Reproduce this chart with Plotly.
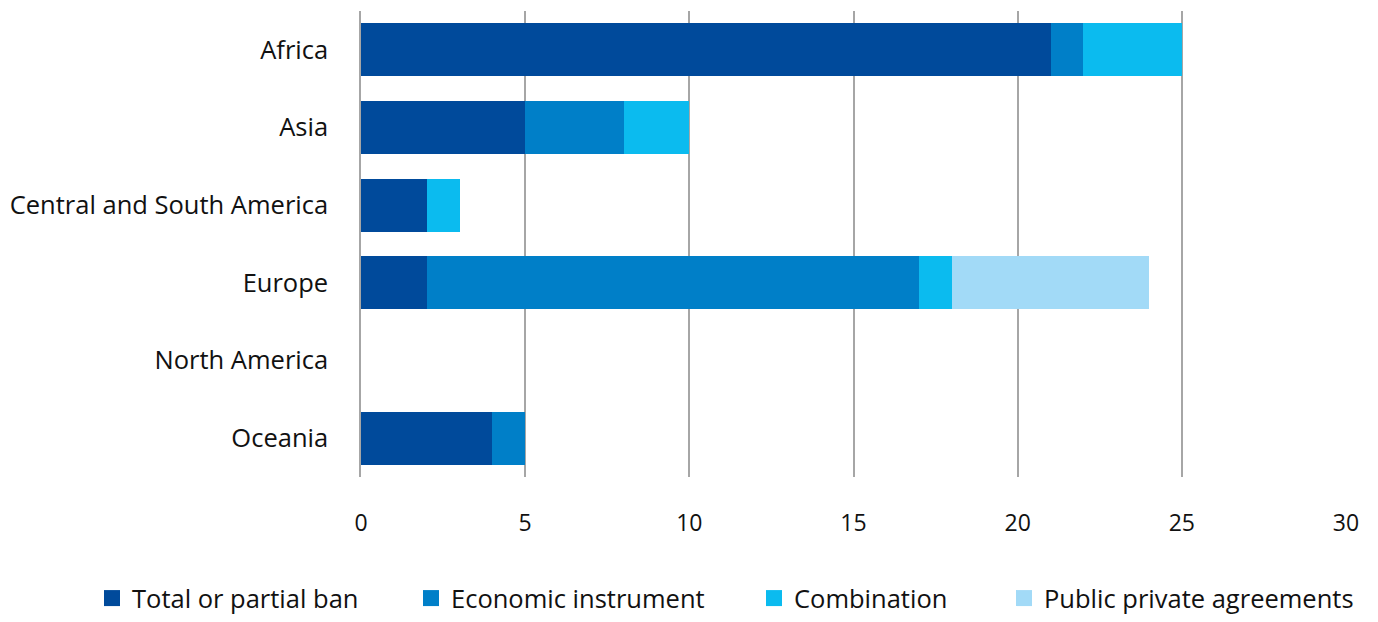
import plotly.graph_objects as go

regions = ["Africa", "Asia", "Central and South America", "Europe", "North America", "Oceania"]
series_names = ["Total or partial ban", "Economic instrument", "Combination", "Public private agreements"]
ban = [21, 5, 2, 2, 0, 4]
economic = [1, 3, 0, 15, 0, 1]
combination = [3, 2, 1, 1, 0, 0]
public_private = [0, 0, 0, 6, 0, 0]
x_ticks = [0, 5, 10, 15, 20, 25, 30]

colors = ["#004A9B", "#007FC8", "#0BBBEF", "#A2DAF7"]
values = [ban, economic, combination, public_private]
legend_ids = ["legend", "legend2", "legend3", "legend4"]
legend_x = [92, 411, 754, 1004]

FONT = "Open Sans"
LABEL_SIZE = 25.5
fig = go.Figure()
for name, vals, col in zip(series_names, values, colors):
    fig.add_trace(go.Bar(y=regions, x=vals, orientation="h", name=name,
                         marker=dict(color=col, line=dict(width=0)),
                         showlegend=False))
for name, col, lid in zip(series_names, colors, legend_ids):
    fig.add_trace(go.Scatter(x=[None], y=[None], mode="markers", name=name,
                             marker=dict(symbol="square", size=16, color=col),
                             legend=lid, showlegend=True))

layout_legends = {}
for lid, lx in zip(legend_ids, legend_x):
    layout_legends[lid] = dict(orientation="h", xref="container", yref="container",
                               x=lx / 1378, y=-5 / 622, xanchor="left", yanchor="bottom",
                               font=dict(family=FONT, size=LABEL_SIZE, color="#111111"),
                               itemsizing="trace", bgcolor="rgba(0,0,0,0)", borderwidth=0)

fig.update_layout(
    width=1378, height=622,
    barmode="stack", bargap=0.32,
    plot_bgcolor="white", paper_bgcolor="white",
    margin=dict(l=361, r=32, t=11, b=145),
    font=dict(family=FONT, size=LABEL_SIZE, color="#111111"),
    xaxis=dict(range=[0, 30], tickvals=x_ticks, showgrid=True, gridcolor="#A6A6A6",
               gridwidth=1.5, zeroline=False, showline=False, ticks="",
               ticklabelstandoff=30, tickfont=dict(family=FONT, size=23, color="#111111"),
               fixedrange=True),
    yaxis=dict(categoryorder="array", categoryarray=regions, autorange="reversed",
               showgrid=False, showline=True, linecolor="#A6A6A6", linewidth=1.5,
               ticks="", ticklabelstandoff=26, zeroline=False,
               tickfont=dict(family=FONT, size=LABEL_SIZE, color="#111111")),
    **layout_legends,
)

fig.write_html("out.html")
